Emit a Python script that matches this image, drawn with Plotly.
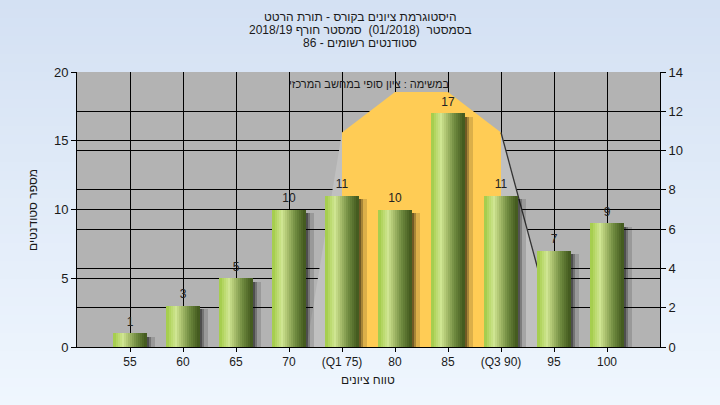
import plotly.graph_objects as go

# ---------------- data ----------------
categories = ["55", "60", "65", "70", "(Q1 75)", "80", "85", "(Q3 90)", "95", "100"]
counts = [1, 3, 5, 10, 11, 10, 17, 11, 7, 9]
left_ticks = [0, 5, 10, 15, 20]
right_ticks = [0, 2, 4, 6, 8, 10, 12, 14]

# quartile band (x in category index, y in number of students)
band_x = [4, 4, 5, 6, 7, 7]
band_y = [0, 15.6, 18.55, 18.55, 15.6, 0]
low_wedge_x = [4, 3.33, 4]
low_wedge_y = [15.6, 0, 0]
high_wedge_x = [7, 7.77, 7.77, 7]
high_wedge_y = [15.6, 4.6, 0, 0]
whisker_x = [7, 7.77]
whisker_y = [15.6, 4.6]

title_lines = [
    "היסטוגרמת ציונים בקורס - תורת הרטט",
    "בסמסטר  (01/2018)  סמסטר חורף 2018/19",
    "סטודנטים רשומים - 86",
]
band_label = "במשימה : ציון סופי במחשב המרכזי"
y_title = "מספר סטודנטים"
x_title = "טווח ציונים"

# ---------------- layout constants ----------------
W, H = 720, 405
ML, MR, MT, MB = 77, 60, 72, 58
PW, PH = W - ML - MR, H - MT - MB
FONT = "Liberation Sans, DejaVu Sans, Arial, sans-serif"
TXT = "#1a1a1a"


def px_to_paper_x(px):
    return (px - ML) / PW


def px_to_paper_y(py):
    return (H - MB - py) / PH


def path_from(xs, ys):
    p = "M " + " L ".join(f"{x},{y}" for x, y in zip(xs, ys)) + " Z"
    return p


idx = list(range(len(categories)))
fig = go.Figure()

BAR_W = 0.625

# shadows
for dx, alpha in [(0.15, 0.14), (0.09, 0.24), (0.05, 0.32)]:
    fig.add_trace(go.Bar(
        x=idx, y=[c - 0.25 for c in counts], width=BAR_W, offset=-BAR_W / 2 + dx,
        marker=dict(color=f"rgba(0,0,0,{alpha})", line=dict(width=0)),
        hoverinfo="skip", showlegend=False))

# bar gradient via slices
stops = [(0.0, (160, 203, 70)), (0.12, (184, 216, 104)), (0.28, (207, 229, 146)),
         (0.45, (170, 192, 110)), (0.7, (112, 139, 64)), (0.9, (80, 104, 40)),
         (1.0, (64, 86, 28))]


def grad(t):
    for (t0, c0), (t1, c1) in zip(stops[:-1], stops[1:]):
        if t0 <= t <= t1:
            f = (t - t0) / (t1 - t0) if t1 > t0 else 0
            return tuple(int(round(a + (b - a) * f)) for a, b in zip(c0, c1))
    return stops[-1][1]


N = 16
sw = BAR_W / N
for i in range(N):
    t = (i + 0.5) / N
    r, g, b = grad(t)
    fig.add_trace(go.Bar(
        x=idx, y=counts, width=sw * (1.35 if i < N - 1 else 1.0),
        offset=-BAR_W / 2 + i * sw,
        marker=dict(color=f"rgb({r},{g},{b})", line=dict(width=0)),
        hoverinfo="skip", showlegend=False))

# value labels
fig.add_trace(go.Scatter(
    x=idx, y=counts, mode="markers+text", text=[str(c) for c in counts],
    marker=dict(size=6, opacity=0),
    textposition="top center", textfont=dict(family=FONT, size=12, color="#222"),
    hoverinfo="skip", showlegend=False, cliponaxis=False))

# secondary axis anchor trace (invisible)
fig.add_trace(go.Scatter(x=[idx[0]], y=[right_ticks[0]], yaxis="y2", mode="markers",
                         marker=dict(opacity=0), hoverinfo="skip", showlegend=False))

shapes = []
# background gradient
top = (212, 225, 243)
bot = (239, 246, 254)
NS = 45
for k in range(NS):
    f = k / (NS - 1)
    c = tuple(int(round(a + (b - a) * f)) for a, b in zip(top, bot))
    y0 = k * H / NS
    y1 = (k + 1) * H / NS + 1
    shapes.append(dict(type="rect", xref="paper", yref="paper", layer="below",
                       x0=px_to_paper_x(0), x1=px_to_paper_x(W),
                       y0=px_to_paper_y(y1), y1=px_to_paper_y(y0),
                       fillcolor=f"rgb{c}", line=dict(width=0)))
# plot area background
shapes.append(dict(type="rect", xref="paper", yref="paper", layer="below",
                   x0=0, x1=1, y0=0, y1=1, fillcolor="#b3b3b3", line=dict(width=0)))
# quartile band & wedges
shapes.append(dict(type="path", xref="x", yref="y", layer="between",
                   path=path_from(low_wedge_x, low_wedge_y),
                   fillcolor="#c0c0c0", line=dict(width=0)))
shapes.append(dict(type="path", xref="x", yref="y", layer="between",
                   path=path_from(high_wedge_x, high_wedge_y),
                   fillcolor="#c0c0c0", line=dict(width=0)))
shapes.append(dict(type="path", xref="x", yref="y", layer="between",
                   path=path_from(band_x, band_y),
                   fillcolor="#ffcc55", line=dict(width=0)))
shapes.append(dict(type="line", xref="x", yref="y", layer="between",
                   x0=whisker_x[0], y0=whisker_y[0], x1=whisker_x[1], y1=whisker_y[1],
                   line=dict(color="#333333", width=1.3)))

annotations = []
for i, (line, py) in enumerate(zip(title_lines, [17, 30, 43])):
    annotations.append(dict(text=line, xref="paper", yref="paper",
                            x=px_to_paper_x(W / 2), y=px_to_paper_y(py),
                            xanchor="center", yanchor="middle", showarrow=False,
                            font=dict(family=FONT, size=12, color=TXT)))
annotations.append(dict(text=band_label, xref="paper", yref="paper",
                        x=px_to_paper_x(369), y=px_to_paper_y(84),
                        xanchor="center", yanchor="middle", showarrow=False,
                        font=dict(family=FONT, size=11, color=TXT)))
annotations.append(dict(text=y_title, xref="paper", yref="paper",
                        x=px_to_paper_x(33), y=px_to_paper_y(210), textangle=-90,
                        xanchor="center", yanchor="middle", showarrow=False,
                        font=dict(family=FONT, size=12, color=TXT)))
annotations.append(dict(text=x_title, xref="paper", yref="paper",
                        x=px_to_paper_x(368), y=px_to_paper_y(380),
                        xanchor="center", yanchor="middle", showarrow=False,
                        font=dict(family=FONT, size=12, color=TXT)))

fig.update_layout(
    width=W, height=H, autosize=False,
    margin=dict(l=ML, r=MR, t=MT, b=MB, pad=0),
    paper_bgcolor="#e4edf9", plot_bgcolor="rgba(0,0,0,0)",
    barmode="overlay", bargap=0,
    showlegend=False,
    font=dict(family=FONT, size=12, color=TXT),
    shapes=shapes, annotations=annotations,
    xaxis=dict(range=[-1, 10], tickmode="array", tickvals=idx, ticktext=categories,
               showgrid=True, gridcolor="black", gridwidth=1,
               showline=True, linecolor="black", linewidth=1,
               ticks="outside", ticklen=4, tickcolor="black",
               tickfont=dict(family=FONT, size=12, color=TXT),
               zeroline=False, fixedrange=True),
    yaxis=dict(range=[0, 20], tickmode="array", tickvals=left_ticks,
               showgrid=True, gridcolor="black", gridwidth=1,
               showline=True, linecolor="black", linewidth=1,
               ticks="outside", ticklen=5, tickcolor="black",
               tickfont=dict(family=FONT, size=13, color=TXT),
               zeroline=False, fixedrange=True),
    yaxis2=dict(range=[0, 14], tickmode="array", tickvals=right_ticks,
                overlaying="y", side="right", anchor="x",
                showgrid=True, gridcolor="black", gridwidth=1,
                showline=True, linecolor="black", linewidth=1,
                ticks="outside", ticklen=5, tickcolor="black",
                tickfont=dict(family=FONT, size=13, color=TXT),
                zeroline=False, fixedrange=True),
)

fig.write_html("out.html", config={"displayModeBar": False},
               post_script="document.body.style.margin='0px';document.body.style.overflow='hidden';")
